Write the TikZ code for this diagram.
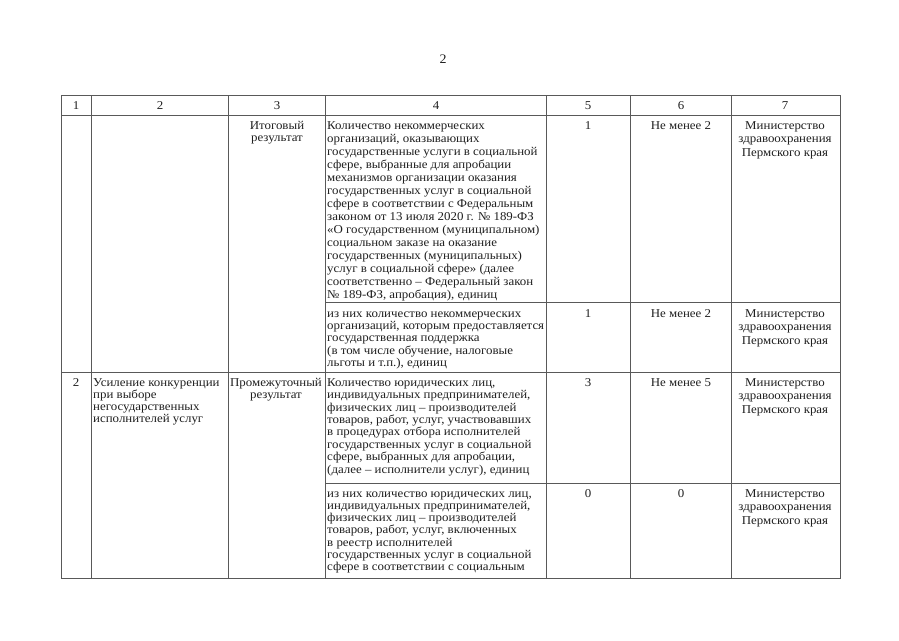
\documentclass[tikz,border=0pt]{standalone}
\usepackage{fontspec}
\setmainfont[FakeStretch=1.075]{Liberation Serif}
\newcommand\fst{\rule{0pt}{9pt}}
\begin{document}
\begin{tikzpicture}[x=1pt,y=-1pt,
  tl/.style={draw=black!65, line width=0.7pt},
  cell/.style={inner sep=0pt, text=black!88},
  lcell/.style={cell, anchor=north west, align=left, font=\fontsize{12}{#1}\selectfont},
  ccell/.style={cell, anchor=north, align=center, font=\fontsize{12}{#1}\selectfont}
]
\useasboundingbox (0,0) rectangle (899,640);
% page number
\node[cell, font=\fontsize{13}{13}\selectfont, anchor=north] (pg) at (443,54) {\fst 2};
% table grid
\draw[tl] (61,95) rectangle (840,578);
\draw[tl] (61,115) -- (840,115);
\draw[tl] (325,302) -- (840,302);
\draw[tl] (61,372) -- (840,372);
\draw[tl] (325,483) -- (840,483);
\foreach \x in {91,228,325,546,630,731} \draw[tl] (\x,95) -- (\x,578);
% header
\foreach \x/\t [count=\i] in {76/1,160/2,277/3,436/4,588/5,681/6,785/7}
  \node[ccell=13] (h\i) at (\x,100) {\fst\t};
% row 1a
\node[ccell=12] (r1c3) at (277,120) {\fst Итоговый\\результат};
\node[lcell=13] (r1c4) at (327,120) {\fst Количество некоммерческих\\
организаций, оказывающих\\
государственные услуги в социальной\\
сфере, выбранные для апробации\\
механизмов организации оказания\\
государственных услуг в социальной\\
сфере в соответствии с Федеральным\\
законом от 13 июля 2020 г. № 189-ФЗ\\
«О государственном (муниципальном)\\
социальном заказе на оказание\\
государственных (муниципальных)\\
услуг в социальной сфере» (далее\\
соответственно – Федеральный закон\\
№ 189-ФЗ, апробация), единиц};
\node[ccell=13] (r1c5) at (588,120) {\fst 1};
\node[ccell=13] (r1c6) at (681,120) {\fst Не менее 2};
\node[ccell=13.5] (r1c7) at (785,120) {\fst Министерство\\здравоохранения\\Пермского края};
% row 1b
\node[lcell=12.3] (r1bc4) at (327,308) {\fst из них количество некоммерческих\\
организаций, которым предоставляется\\
государственная поддержка\\
(в том числе обучение, налоговые\\
льготы и т.п.), единиц};
\node[ccell=13] (r1bc5) at (588,308) {\fst 1};
\node[ccell=13] (r1bc6) at (681,308) {\fst Не менее 2};
\node[ccell=13.5] (r1bc7) at (785,308) {\fst Министерство\\здравоохранения\\Пермского края};
% row 2a
\node[ccell=13] (r2c1) at (76,377) {\fst 2};
\node[lcell=12] (r2c2) at (93,377) {\fst Усиление конкуренции\\при выборе\\негосударственных\\исполнителей услуг};
\node[ccell=12] (r2c3) at (276,377) {\fst Промежуточный\\результат};
\node[lcell=12.4] (r2c4) at (327,377) {\fst Количество юридических лиц,\\
индивидуальных предпринимателей,\\
физических лиц – производителей\\
товаров, работ, услуг, участвовавших\\
в процедурах отбора исполнителей\\
государственных услуг в социальной\\
сфере, выбранных для апробации,\\
(далее – исполнители услуг), единиц};
\node[ccell=13] (r2c5) at (588,377) {\fst 3};
\node[ccell=13] (r2c6) at (681,377) {\fst Не менее 5};
\node[ccell=13.5] (r2c7) at (785,377) {\fst Министерство\\здравоохранения\\Пермского края};
% row 2b
\node[lcell=12.2] (r2bc4) at (327,488) {\fst из них количество юридических лиц,\\
индивидуальных предпринимателей,\\
физических лиц – производителей\\
товаров, работ, услуг, включенных\\
в реестр исполнителей\\
государственных услуг в социальной\\
сфере в соответствии с социальным};
\node[ccell=13] (r2bc5) at (588,488) {\fst 0};
\node[ccell=13] (r2bc6) at (681,488) {\fst 0};
\node[ccell=13.5] (r2bc7) at (785,488) {\fst Министерство\\здравоохранения\\Пермского края};
\end{tikzpicture}
\end{document}
